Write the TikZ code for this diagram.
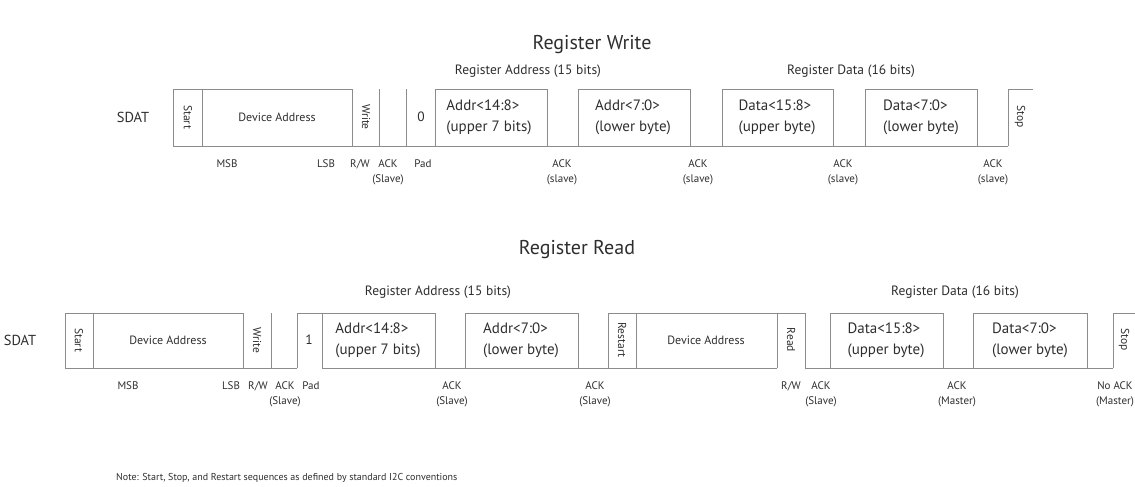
\documentclass[tikz,border=0pt]{standalone}
\usepackage{fontspec}
\setmainfont{PT Sans}
\usetikzlibrary{positioning}
\definecolor{ink}{HTML}{2E2E2E}
\definecolor{wire}{HTML}{8C8C8C}

\begin{document}
\begin{tikzpicture}[x=1pt,y=-1pt,
  every node/.style={text=ink,inner sep=0pt},
  wave/.style={draw=wire,line width=0.9pt},
  fld/.style={font=\fontsize{15}{21}\selectfont,align=left},
  dev/.style={font=\fontsize{12}{13}\selectfont},
  vert/.style={font=\fontsize{11.5}{12}\selectfont,rotate=-90},
  lbl/.style={font=\fontsize{11}{15}\selectfont,align=center},
  ttl/.style={font=\fontsize{13.5}{15}\selectfont},
  big/.style={font=\fontsize{20}{22}\selectfont}]
\useasboundingbox (0,0) rectangle (1135,487);

% register write
\node (wtitle) [big] at (592,45) {Register Write};
\node (wraddr) [ttl] at (528,71) {Register Address (15 bits)};
\node (wrdata) [ttl] at (851,71) {Register Data (16 bits)};
\node (wsdat) [ttl,font=\fontsize{14.5}{16}\selectfont] at (133,117) {SDAT};

\draw[wave] (173,146) -- (1008,146);
\foreach \a/\b in {173/352,435/547,578/690,722/833,865/977,1008/1033}
  \draw[wave] (\a,89) -- (\b,89);
\foreach \x in {173,202,352,379,406,435,547,578,690,722,833,865,977,1008}
  \draw[wave] (\x,89) -- (\x,146);

\node (wstart) [vert] at (188,117) {Start};
\node (wdev) [dev] at (277,117) {Device Address};
\node (wwr) [vert] at (366,117) {Write};
\node (wpad) [ttl] at (421,117) {0};
\node (wa1) [fld] at (489,117) {Addr<14:8>\\(upper 7 bits)};
\node (wa0) [fld] at (633,117) {Addr<7:0>\\(lower byte)};
\node (wd1) [fld] at (777,117) {Data<15:8>\\(upper byte)};
\node (wd0) [fld] at (921,117) {Data<7:0>\\(lower byte)};
\node (wstop) [vert] at (1020,117) {Stop};

\node (wmsb) [lbl] at (227,164) {MSB};
\node (wlsb) [lbl] at (326,164) {LSB};
\node (wrw) [lbl] at (360,164) {R/W};
\node (wack) [lbl,anchor=north] at (388,159) {ACK\\(Slave)};
\node (wpadl) [lbl] at (423,164) {Pad};
\node (wack1) [lbl,anchor=north] at (562,159) {ACK\\(slave)};
\node (wack2) [lbl,anchor=north] at (698,159) {ACK\\(slave)};
\node (wack3) [lbl,anchor=north] at (843,159) {ACK\\(slave)};
\node (wack4) [lbl,anchor=north] at (993,159) {ACK\\(slave)};

% register read
\node (rtitle) [big] at (577,250) {Register Read};
\node (rraddr) [ttl] at (438,292) {Register Address (15 bits)};
\node (rrdata) [ttl] at (955,292) {Register Data (16 bits)};
\node (rsdat) [ttl,font=\fontsize{14.5}{16}\selectfont] at (20,340) {SDAT};

\foreach \a/\b in {65/297,322/777,805/1113}
  \draw[wave] (\a,368) -- (\b,368);
\foreach \a/\b in {65/243,297/435,465/578,608/805,830/943,973/1087,1113/1140}
  \draw[wave] (\a,313) -- (\b,313);
\foreach \x in {65,93,243,271,297,322,435,465,578,608,636,777,805,830,943,973,1087,1113}
  \draw[wave] (\x,313) -- (\x,368);

\node (rstart) [vert] at (79,340) {Start};
\node (rdev) [dev] at (168,340) {Device Address};
\node (rwr) [vert] at (257,340) {Write};
\node (rpad) [ttl] at (309,340) {1};
\node (ra1) [fld] at (378,340) {Addr<14:8>\\(upper 7 bits)};
\node (ra0) [fld] at (521,340) {Addr<7:0>\\(lower byte)};
\node (rrs) [vert] at (622,340) {Restart};
\node (rdev2) [dev] at (706,340) {Device Address};
\node (rrd) [vert] at (791,340) {Read};
\node (rd1) [fld] at (886,340) {Data<15:8>\\(upper byte)};
\node (rd0) [fld] at (1030,340) {Data<7:0>\\(lower byte)};
\node (rstop) [vert] at (1124,340) {Stop};

\node (rmsb) [lbl] at (128,386) {MSB};
\node (rlsb) [lbl] at (231,386) {LSB};
\node (rrw) [lbl] at (258,386) {R/W};
\node (rack) [lbl,anchor=north] at (285,381) {ACK\\(Slave)};
\node (rpadl) [lbl] at (311,386) {Pad};
\node (rack1) [lbl,anchor=north] at (452,381) {ACK\\(Slave)};
\node (rack2) [lbl,anchor=north] at (595,381) {ACK\\(Slave)};
\node (rrw2) [lbl] at (791,386) {R/W};
\node (rack3) [lbl,anchor=north] at (821,381) {ACK\\(Slave)};
\node (rack4) [lbl,anchor=north] at (957,381) {ACK\\(Master)};
\node (rnack) [lbl,anchor=north] at (1115,381) {No ACK\\(Master)};

\node (note) [lbl,font=\fontsize{10}{12}\selectfont,anchor=west] at (116,478) {Note: Start, Stop, and Restart sequences as defined by standard I2C conventions};
\end{tikzpicture}
\end{document}
